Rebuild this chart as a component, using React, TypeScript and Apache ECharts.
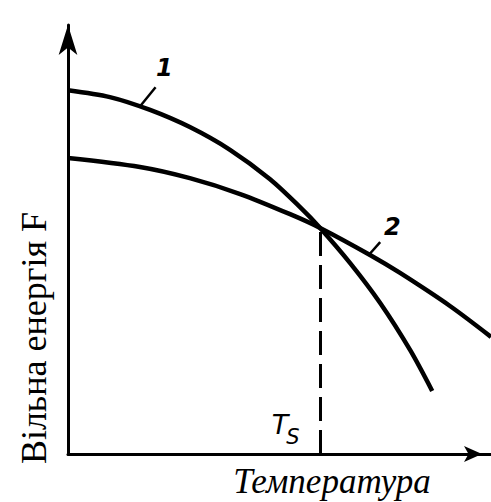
import React, { useEffect, useRef } from "react";
import * as echarts from "echarts";

// Curve 1: free energy of the first phase vs temperature
const temperature1 = [0, 0.99, 1.94, 2.88, 3.83, 4.77, 5.48, 5.96, 6.67, 7.38, 8.09, 8.61];
const energy1 = [8.48, 8.32, 8.02, 7.62, 7.09, 6.41, 5.76, 5.27, 4.45, 3.52, 2.42, 1.47];

// Curve 2: free energy of the second phase vs temperature
const temperature2 = [0, 1.7, 2.88, 4.07, 5.25, 5.96, 7.14, 7.85, 9.03, 10];
const energy2 = [6.9, 6.69, 6.43, 6.06, 5.59, 5.27, 4.64, 4.22, 3.45, 2.73];

// Crossing point of the two curves (transition temperature Ts)
const transitionT = 5.96;
const transitionF = 5.27;

// Curve labels and the short leader segments pointing to them
const curveNames = ["1", "2"];
const leader1 = [[1.7, 8.1], [2.07, 8.55]];
const leader2 = [[7.12, 4.65], [7.38, 4.94]];
const labelPos1 = [2.28, 9.0];
const labelPos2 = [7.67, 5.3];

const yTitle = "Вільна енергія F";
const xTitle = "Температура";

const zip = (xs: number[], ys: number[]) => xs.map((x, i) => [x, ys[i]]);

export default function App() {
  const ref = useRef<HTMLDivElement>(null);

  useEffect(() => {
    if (!ref.current) return;
    const chart = echarts.init(ref.current, null, { renderer: "svg" });

    const digitLabel = {
      show: true,
      color: "#000",
      fontFamily: "DejaVu Sans",
      fontStyle: "italic",
      fontWeight: "bold",
      fontSize: 24,
    };

    chart.setOption({
      animation: false,
      backgroundColor: "#fff",
      grid: { left: 68, right: 0, top: 25, bottom: 48 },
      xAxis: {
        type: "value",
        min: 0,
        max: 10,
        axisLine: {
          show: true,
          lineStyle: { color: "#000", width: 3 },
          symbol: ["none", "arrow"],
          symbolSize: [12, 18],
          symbolOffset: [0, -9],
        },
        axisTick: { show: false },
        axisLabel: { show: false },
        splitLine: { show: false },
      },
      yAxis: {
        type: "value",
        min: 0,
        max: 10,
        axisLine: {
          show: true,
          lineStyle: { color: "#000", width: 3 },
          symbol: ["none", "arrow"],
          symbolSize: [14, 30],
        },
        axisTick: { show: false },
        axisLabel: { show: false },
        splitLine: { show: false },
      },
      series: [
        {
          name: curveNames[0],
          type: "line",
          data: zip(temperature1, energy1),
          smooth: 0.3,
          showSymbol: false,
          lineStyle: { color: "#000", width: 4.5 },
          markLine: {
            silent: true,
            symbol: "none",
            label: { show: false },
            lineStyle: { color: "#000", width: 2.5, type: "solid" },
            data: [[{ coord: leader1[0] }, { coord: leader1[1] }]],
          },
          markPoint: {
            symbol: "circle",
            symbolSize: 0,
            label: { ...digitLabel, position: "inside", formatter: curveNames[0] },
            data: [{ coord: labelPos1 }],
          },
        },
        {
          name: curveNames[1],
          type: "line",
          data: zip(temperature2, energy2),
          smooth: 0.3,
          showSymbol: false,
          lineStyle: { color: "#000", width: 4.5 },
          markLine: {
            silent: true,
            symbol: "none",
            label: { show: false },
            data: [
              [
                { coord: leader2[0], lineStyle: { color: "#000", width: 2.5, type: "solid" } },
                { coord: leader2[1] },
              ],
              [
                { coord: [transitionT, 0], lineStyle: { color: "#000", width: 3, type: [24, 9] } },
                { coord: [transitionT, transitionF] },
              ],
            ],
          },
          markPoint: {
            symbol: "circle",
            symbolSize: 0,
            label: { ...digitLabel, position: "inside", formatter: curveNames[1] },
            data: [{ coord: labelPos2 }],
          },
        },
      ],
      graphic: [
        {
          type: "text",
          x: 34,
          y: 338,
          rotation: Math.PI / 2,
          style: {
            text: yTitle,
            fill: "#000",
            font: "36px 'Liberation Serif'",
            align: "center",
            verticalAlign: "middle",
          },
        },
        {
          type: "text",
          x: 332,
          y: 481,
          style: {
            text: xTitle,
            fill: "#000",
            font: "italic 35px 'Liberation Serif'",
            align: "center",
            verticalAlign: "middle",
          },
        },
        {
          type: "text",
          x: 280,
          y: 424,
          style: {
            text: "T",
            fill: "#000",
            font: "italic 27px 'DejaVu Sans'",
            align: "center",
            verticalAlign: "middle",
          },
        },
        {
          type: "text",
          x: 293,
          y: 437,
          style: {
            text: "S",
            fill: "#000",
            font: "italic 21px 'DejaVu Sans'",
            align: "center",
            verticalAlign: "middle",
          },
        },
      ],
    });

    return () => chart.dispose();
  }, []);

  return (
    <div
      ref={ref}
      style={{ position: "fixed", left: 0, top: 0, width: 491, height: 502 }}
    />
  );
}
